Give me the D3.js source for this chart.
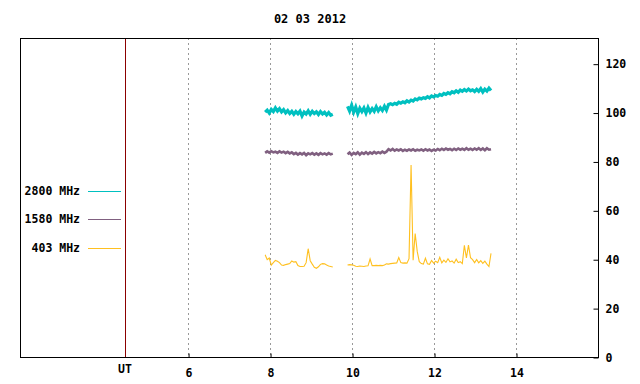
<!DOCTYPE html>
<html>
<head>
<meta charset="utf-8">
<script src="https://cdn.jsdelivr.net/npm/d3@7"></script>
<style>
  html, body { margin: 0; padding: 0; background: #fff; }
  svg text { font-family: "DejaVu Sans Mono", "Liberation Mono", monospace; font-weight: bold; font-size: 11.5px; fill: #000; }
</style>
</head>
<body>
<svg id="chart" width="640" height="384"></svg>
<script>
// Radio flux, 02 03 2012
const title = '02 03 2012';
const frequencies = ['2800 MHz', '1580 MHz', '403 MHz'];
const colors = ['#00c0c0', '#806080', '#ffc020'];
const hourTicks = [6, 8, 10, 12, 14];
const fluxTicks = [0, 20, 40, 60, 80, 100, 120];
const utHour = 4.46;

// two observing runs, sampled every 0.05 h
const step = 0.05;
const run1Start = 7.88;
const run2Start = 9.89;

const f2800a = [100.2, 101.0, 99.8, 101.3, 100.4, 101.9, 100.6, 101.6, 100.3, 101.2, 99.9, 100.8, 99.6, 100.5, 99.3, 100.4, 99.5,
  100.6, 98.6, 100.2, 99.4, 100.7, 99.3, 100.5, 99.6, 100.3, 99.2, 100.4, 99.4, 100.1, 99.0, 100.0, 98.9, 99.3];
const f2800b = [102.5, 100.6, 103.0, 100.2, 102.3, 99.6, 101.8, 100.4, 101.9, 99.8, 102.1, 100.3, 101.6, 100.5, 102.4, 100.7,
  102.0, 100.9, 102.6, 101.0, 103.3, 103.6, 103.2, 103.8, 103.4, 104.2, 103.8, 104.4, 104.0, 104.8, 104.3, 105.1, 104.7, 105.6,
  105.2, 105.9, 105.6, 106.1, 105.8, 106.5, 106.0, 106.8, 106.4, 107.0, 106.7, 107.4, 107.0, 107.8, 107.4, 108.1, 107.7, 108.5,
  108.1, 108.9, 108.3, 109.2, 108.7, 109.4, 108.8, 109.6, 108.9, 109.3, 108.6, 109.5, 108.7, 109.8, 108.4, 109.6, 108.8, 110.0, 109.0];

const f1580a = [83.5, 84.1, 83.6, 84.2, 83.7, 84.0, 83.5, 84.1, 83.6, 84.0, 83.4, 83.9, 83.3, 83.7, 83.0, 83.5, 82.8,
  83.4, 82.9, 83.5, 82.6, 83.3, 82.9, 83.4, 82.8, 83.3, 82.7, 83.4, 82.9, 83.3, 82.8, 83.4, 82.9, 83.2];
const f1580b = [82.9, 83.6, 82.7, 83.5, 83.0, 83.7, 82.8, 83.6, 83.1, 83.8, 83.0, 83.7, 83.2, 83.9, 83.3, 83.8, 83.4, 84.0, 83.5, 84.0,
  85.0, 84.5, 85.1, 84.4, 84.9, 84.5, 85.0, 84.3, 84.8, 84.4, 84.9, 84.5, 85.0, 84.4, 84.8, 84.5, 84.9, 84.4, 85.0, 84.5,
  84.9, 84.3, 84.8, 84.5, 85.1, 84.6, 85.2, 84.7, 85.3, 84.8, 85.1, 84.6, 85.2, 84.7, 85.3, 84.8, 85.2, 84.7, 85.4, 84.8,
  85.2, 84.7, 85.3, 84.8, 85.4, 84.7, 85.3, 84.6, 85.4, 84.8, 85.0];

const f403a = [41.8, 39.8, 40.5, 37.6, 38.6, 39.5, 39.2, 38.6, 37.6, 37.5, 37.8, 38.0, 38.2, 39.3, 38.8, 39.0, 37.4,
  37.0, 37.0, 37.1, 38.6, 44.3, 39.4, 38.0, 36.7, 36.3, 36.9, 37.9, 38.2, 38.1, 37.6, 37.2, 37.0, 36.8];
const f403b = [37.6, 37.8, 37.7, 37.5, 37.1, 37.0, 37.2, 37.1, 37.0, 37.2, 37.3, 40.1, 37.4, 37.4, 37.5, 37.4, 37.5, 37.4, 37.6, 38.1,
  38.0, 38.2, 38.3, 38.4, 38.5, 40.7, 38.6, 38.4, 38.5, 38.4, 40.2, 78.5, 39.6, 50.5, 43.2, 39.0, 38.2, 38.0, 40.4, 38.1,
  37.9, 39.5, 38.4, 39.2, 38.6, 40.8, 38.5, 39.6, 38.7, 40.2, 38.9, 39.3, 38.4, 40.0, 38.6, 39.0, 38.2, 45.7, 40.5, 45.8,
  40.6, 39.8, 38.6, 39.9, 38.5, 39.4, 38.3, 39.2, 38.0, 37.0, 42.4];

const series = [
  { runs: [f2800a, f2800b], width: 3.2 },
  { runs: [f1580a, f1580b], width: 2.6 },
  { runs: [f403a, f403b], width: 1.1 }
];

const svg = d3.select('#chart');
const plot = { left: 20, right: 598, top: 38, bottom: 357 };

const x = d3.scaleLinear().domain([1.9, 16.0]).range([plot.left, plot.right]);
const y = d3.scaleLinear().domain([0, 130.5]).range([plot.bottom, plot.top]);

svg.append('rect')
  .attr('width', 640).attr('height', 384).attr('fill', '#fff');

// dotted hour grid
svg.append('g')
  .selectAll('line')
  .data(hourTicks)
  .join('line')
  .attr('x1', d => Math.round(x(d)) + 0.5).attr('x2', d => Math.round(x(d)) + 0.5)
  .attr('y1', plot.top).attr('y2', plot.bottom)
  .attr('stroke', '#999')
  .attr('stroke-dasharray', '2,3');

// data runs
const toPoints = (vals, start) => vals.map((v, i) => [start + i * step, v]);
const line = d3.line()
  .x(d => x(d[0]))
  .y(d => y(d[1]));

series.forEach((s, k) => {
  [run1Start, run2Start].forEach((start, r) => {
    svg.append('path')
      .datum(toPoints(s.runs[r], start))
      .attr('fill', 'none')
      .attr('stroke', colors[k])
      .attr('stroke-width', s.width)
      .attr('d', line);
  });
});

// UT marker
svg.append('line')
  .attr('x1', Math.round(x(utHour)) + 0.5).attr('x2', Math.round(x(utHour)) + 0.5)
  .attr('y1', plot.top).attr('y2', plot.bottom)
  .attr('stroke', '#8b0000');

// frame
svg.append('rect')
  .attr('x', plot.left + 0.5).attr('y', plot.top + 0.5)
  .attr('width', plot.right - plot.left).attr('height', plot.bottom - plot.top)
  .attr('fill', 'none').attr('stroke', '#000');

// bottom axis
svg.append('g')
  .attr('transform', `translate(0.5,${plot.bottom + 0.5})`)
  .call(d3.axisBottom(x).tickValues(hourTicks).tickSize(-4).tickPadding(11).tickFormat(d3.format('d')))
  .call(g => g.select('.domain').remove())
  .call(g => g.selectAll('line').attr('stroke', '#000'))
  .call(g => g.selectAll('text').attr('font-size', null).attr('font-family', null));

svg.append('text')
  .attr('x', x(utHour))
  .attr('y', 373)
  .attr('text-anchor', 'middle')
  .text('UT');

// right axis
svg.append('g')
  .attr('transform', `translate(${plot.right + 0.5},0.5)`)
  .call(d3.axisRight(y).tickValues(fluxTicks).tickSize(-5).tickPadding(7))
  .call(g => g.select('.domain').remove())
  .call(g => g.selectAll('line').attr('stroke', '#000'))
  .call(g => g.selectAll('text').attr('font-size', null).attr('font-family', null));

// title
svg.append('text')
  .attr('x', 310).attr('y', 23)
  .attr('text-anchor', 'middle')
  .style('font-size', '12px')
  .text(title);

// legend
const legend = svg.append('g')
  .selectAll('g')
  .data(frequencies)
  .join('g')
  .attr('transform', (d, i) => `translate(0,${[191, 219, 248][i]})`);

legend.append('text')
  .attr('x', 80).attr('y', 4)
  .attr('text-anchor', 'end')
  .text(d => d);

legend.append('line')
  .attr('x1', 88).attr('x2', 121)
  .attr('y1', 0.5).attr('y2', 0.5)
  .attr('stroke', (d, i) => colors[i]);
</script>
</body>
</html>
